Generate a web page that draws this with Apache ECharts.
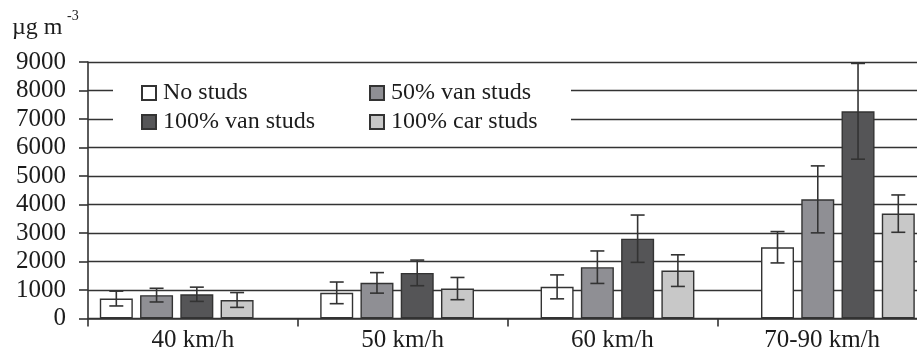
<!DOCTYPE html>
<html>
<head>
<meta charset="utf-8">
<script src="https://cdn.jsdelivr.net/npm/echarts@6/dist/echarts.min.js"></script>
<style>
  html, body { margin: 0; padding: 0; background: #fff; }
  #chart { width: 917px; height: 352px; }
</style>
</head>
<body>
<div id="chart"></div>
<script>
// Speed groups on the category axis
const categories = ['40 km/h', '50 km/h', '60 km/h', '70-90 km/h'];
const seriesNames = ['No studs', '50% van studs', '100% van studs', '100% car studs'];

// Mean concentrations (µg m-3)
const noStuds = [700, 900, 1110, 2500];
const van50 = [820, 1250, 1800, 4180];
const van100 = [850, 1600, 2800, 7270];
const car100 = [650, 1050, 1680, 3680];

// Error bar half-lengths
const noStudsErr = [260, 380, 420, 550];
const van50Err = [240, 360, 570, 1175];
const van100Err = [250, 450, 830, 1680];
const car100Err = [260, 390, 555, 655];

// Value axis
const yMin = 0, yMax = 9000, yStep = 1000;

const means = [noStuds, van50, van100, car100];
const errs = [noStudsErr, van50Err, van100Err, car100Err];
const fills = ['#ffffff', '#8f8f94', '#555557', '#c8c8c8'];

const FONT = 'Liberation Serif';
const INK = '#1c1c1c';
const LINE = '#333333';
const BAR_W = 33;
const BAR_GAP = 0.22;
const STEP = BAR_W * (1 + BAR_GAP);

const chart = echarts.init(document.getElementById('chart'), null, { renderer: 'canvas' });

const barSeries = seriesNames.map((name, s) => ({
  name: name,
  type: 'bar',
  xAxisIndex: 1,
  yAxisIndex: 1,
  data: means[s],
  barWidth: BAR_W,
  barGap: (BAR_GAP * 100) + '%',
  z: 2,
  itemStyle: { color: fills[s], borderColor: LINE, borderWidth: 1.4 },
  emphasis: { disabled: true }
}));

const errSeries = seriesNames.map((name, s) => ({
  name: name + ' error',
  type: 'custom',
  xAxisIndex: 1,
  yAxisIndex: 1,
  z: 3,
  silent: true,
  data: categories.map((c, i) => [i, means[s][i], errs[s][i]]),
  encode: { x: 0, y: 1 },
  renderItem: function (params, api) {
    const i = api.value(0), m = api.value(1), e = api.value(2);
    const hi = api.coord([i, m + e]);
    const lo = api.coord([i, m - e]);
    const cx = hi[0] + (s - 1.5) * STEP;
    const cap = 7;
    const st = { stroke: LINE, lineWidth: 1.6 };
    return {
      type: 'group',
      children: [
        { type: 'line', shape: { x1: cx, y1: hi[1], x2: cx, y2: lo[1] }, style: st },
        { type: 'line', shape: { x1: cx - cap, y1: hi[1], x2: cx + cap, y2: hi[1] }, style: st },
        { type: 'line', shape: { x1: cx - cap, y1: lo[1], x2: cx + cap, y2: lo[1] }, style: st }
      ]
    };
  }
}));

const legendText = { fontFamily: FONT, fontSize: 24, color: INK, lineHeight: 24, padding: [0, 0, 0, 2] };

const option = {
  animation: false,
  backgroundColor: '#ffffff',
  grid: [
    { left: 88, top: 62, width: 839, height: 256.5, containLabel: false, outerBoundsMode: 'none' },
    { left: 66.5, top: 62, width: 881.6, height: 256.5, containLabel: false, outerBoundsMode: 'none' }
  ],
  xAxis: [
    {
      type: 'category',
      gridIndex: 0,
      data: categories,
      boundaryGap: true,
      axisLine: { show: true, lineStyle: { color: LINE, width: 1.6 } },
      axisTick: { show: true, length: 8, lineStyle: { color: LINE, width: 1.6 } },
      axisLabel: { fontFamily: FONT, fontSize: 25, color: INK, margin: 9 },
      splitLine: { show: false }
    },
    {
      type: 'category',
      gridIndex: 1,
      data: categories,
      boundaryGap: true,
      show: false
    }
  ],
  yAxis: [
    {
      type: 'value',
      gridIndex: 0,
      min: yMin,
      max: yMax,
      interval: yStep,
      axisLine: { show: true, lineStyle: { color: LINE, width: 1.6 } },
      axisTick: { show: true, length: 9, lineStyle: { color: LINE, width: 1.6 } },
      axisLabel: {
        fontFamily: FONT, fontSize: 25, color: INK, margin: 22,
        formatter: function (v) { return String(v); }
      },
      splitLine: { show: true, lineStyle: { color: LINE, width: 1.4 } }
    },
    {
      type: 'value',
      gridIndex: 1,
      min: yMin,
      max: yMax,
      interval: yStep,
      show: false,
      splitLine: { show: false }
    }
  ],
  legend: [
    {
      orient: 'vertical',
      left: 141,
      top: 81,
      padding: 0,
      itemGap: 5,
      itemWidth: 14,
      itemHeight: 14,
      icon: 'rect',
      selectedMode: false,
      data: [seriesNames[0], seriesNames[2]],
      textStyle: legendText,
      z: 5
    },
    {
      orient: 'vertical',
      left: 369,
      top: 81,
      padding: 0,
      itemGap: 5,
      itemWidth: 14,
      itemHeight: 14,
      icon: 'rect',
      selectedMode: false,
      data: [seriesNames[1], seriesNames[3]],
      textStyle: legendText,
      z: 5
    }
  ],
  graphic: [
    {
      type: 'rect',
      z: 1,
      shape: { x: 113, y: 72, width: 458, height: 64 },
      style: { fill: '#ffffff' }
    },
    {
      type: 'text',
      z: 5,
      x: 12,
      y: 28,
      style: { text: 'µg m', fontFamily: FONT, fontSize: 24, fill: INK, textVerticalAlign: 'middle' }
    },
    {
      type: 'text',
      z: 5,
      x: 67,
      y: 16,
      style: { text: '-3', fontFamily: FONT, fontSize: 14, fill: INK, textVerticalAlign: 'middle' }
    }
  ],
  series: barSeries.concat(errSeries)
};

chart.setOption(option);
</script>
</body>
</html>
